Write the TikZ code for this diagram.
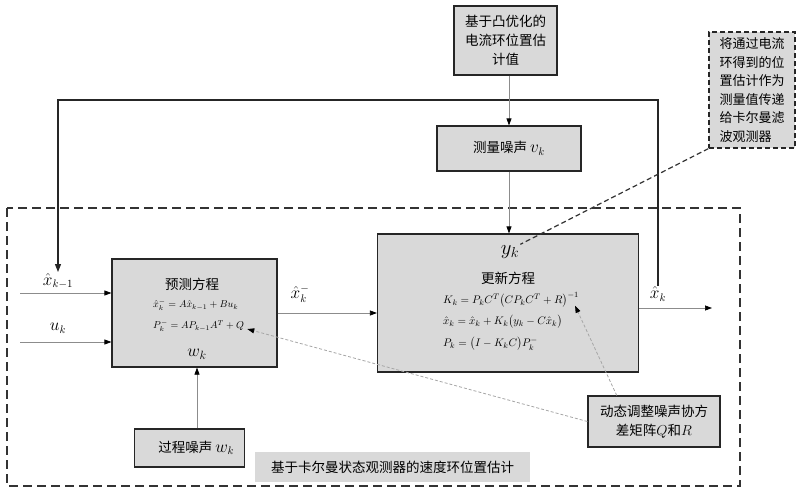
\documentclass[tikz,border=0pt]{standalone}
\usepackage{amsmath}
\usepackage{amssymb}
\usepackage{fontspec}
\setmainfont{Noto Sans CJK SC}
\usetikzlibrary{arrows.meta}

\tikzset{
  graybox/.style={draw=black!85, line width=1.2pt, fill=black!15, inner sep=2pt},
  cjktext/.style={font=\fontsize{13.5}{19}\selectfont, align=center},
  eqtext/.style={font=\fontsize{10}{11}\selectfont, inner sep=0pt},
  symtext/.style={font=\fontsize{16}{18}\selectfont, inner sep=1pt},
  arr/.style={-{Triangle[length=7pt,width=5pt,color=black]}, draw=black!45, line width=0.7pt},
  fbarr/.style={-{Triangle[length=8pt,width=6pt]}, draw=black!85, line width=1.1pt},
  adjarr/.style={-{Triangle[length=7pt,width=5pt,color=black]}, draw=black!35, densely dashed, line width=0.8pt},
}

\begin{document}
\begin{tikzpicture}[x=1pt,y=-1pt]
\useasboundingbox (0,0) rectangle (800,495);
% outer frame of the observer
\draw[dash pattern=on 9pt off 5pt, line width=1.2pt, black!80] (7,208) rectangle (740,486);
\node[fill=black!15, minimum width=275pt, minimum height=30pt, cjktext] (caption) at (392.5,467) {基于卡尔曼状态观测器的速度环位置估计};

% boxes
\node[graybox, minimum width=103pt, minimum height=69pt, cjktext] (convex) at (505.5,40.5) {基于凸优化的\\电流环位置估\\计值};
\node[graybox, minimum width=144pt, minimum height=45pt, cjktext] (measnoise) at (509,148.5) {测量噪声 {\fontsize{16}{16}\selectfont$v_k$}};
\node[graybox, dash pattern=on 5pt off 3pt, minimum width=86pt, minimum height=116pt, font=\fontsize{13}{18.5}\selectfont, align=left] (note) at (752,90) {将通过电流\\环得到的位\\置估计作为\\测量值传递\\给卡尔曼滤\\波观测器};
\node[graybox, minimum width=261pt, minimum height=138pt] (update) at (508,303) {};
\node[graybox, minimum width=165pt, minimum height=108pt] (predict) at (194.5,313) {};
\node[graybox, minimum width=110pt, minimum height=38pt, cjktext] (procnoise) at (189.5,448) {\quad 过程噪声 {\fontsize{16}{16}\selectfont$w_k$}};
\node[graybox, minimum width=132pt, minimum height=51pt, cjktext] (adjust) at (654,421.5) {动态调整噪声协方\\差矩阵$Q$和$R$};

% predict box contents
\node[cjktext, inner sep=0pt] (predtitle) at (192,284) {预测方程};
\node[eqtext, anchor=west] (eqx) at (153,305) {$\hat{x}_k^- = A\hat{x}_{k-1} + Bu_k$};
\node[eqtext, anchor=west] (eqP) at (153,326) {$P_k^- = AP_{k-1}A^T + Q$};
\node[font=\fontsize{17}{18}\selectfont, inner sep=1pt] (wk) at (197,354) {$w_k$};

% update box contents
\node[font=\fontsize{20}{22}\selectfont, inner sep=1pt] (yk) at (510,252) {$y_k$};
\node[cjktext, inner sep=0pt] (updtitle) at (508,278) {更新方程};
\node[eqtext, font=\fontsize{11}{12}\selectfont, anchor=west] (eqK) at (443,300) {$K_k = P_k C^T\bigl(CP_k C^T + R\bigr)^{-1}$};
\node[eqtext, font=\fontsize{11}{12}\selectfont, anchor=west] (eqxk) at (443,322) {$\hat{x}_k = \hat{x}_k + K_k\bigl(y_k - C\hat{x}_k\bigr)$};
\node[eqtext, font=\fontsize{11}{12}\selectfont, anchor=west] (eqPk) at (443,344) {$P_k = \bigl(I - K_kC\bigr)P_k^-$};

% signal labels
\node[symtext] (xkm1) at (58,281) {$\hat{x}_{k-1}$};
\node[symtext] (uk) at (58,328) {$u_k$};
\node[symtext] (xkminus) at (300,294) {$\hat{x}_k^-$};
\node[symtext] (xk) at (658,294) {$\hat{x}_k$};

\coordinate (inx) at (20,293);
\coordinate (inu) at (20,342);
\coordinate (outx) at (712,308);
\coordinate (topleft) at (58,100);
\coordinate (topright) at (658,100);

% connections
\draw[arr] (inx) -- (inx -| predict.west);
\draw[arr] (inu) -- (inu -| predict.west);
\draw[arr] (predict.east) -- (predict.east -| update.west);
\draw[arr] (update.east |- outx) -- (outx);
\draw[fbarr] (xk.north) -- (topright) -- (topleft) -- (xkm1.north);
\draw[arr] (convex.south -| measnoise) -- (measnoise.north);
\draw[arr] (measnoise.south) -- (measnoise.south |- update.north);
\draw[arr] (procnoise.north -| wk) -- (predict.south -| wk);
\draw[dash pattern=on 5pt off 3pt, line width=1.2pt, black!80] (note.south west) -- (yk.north east);
\draw[adjarr] (adjust.west) -- ([xshift=3pt,yshift=3pt]eqP.south east);
\draw[adjarr] (adjust.145) -- ([xshift=-4pt,yshift=2pt]eqK.south east);
\end{tikzpicture}
\end{document}
